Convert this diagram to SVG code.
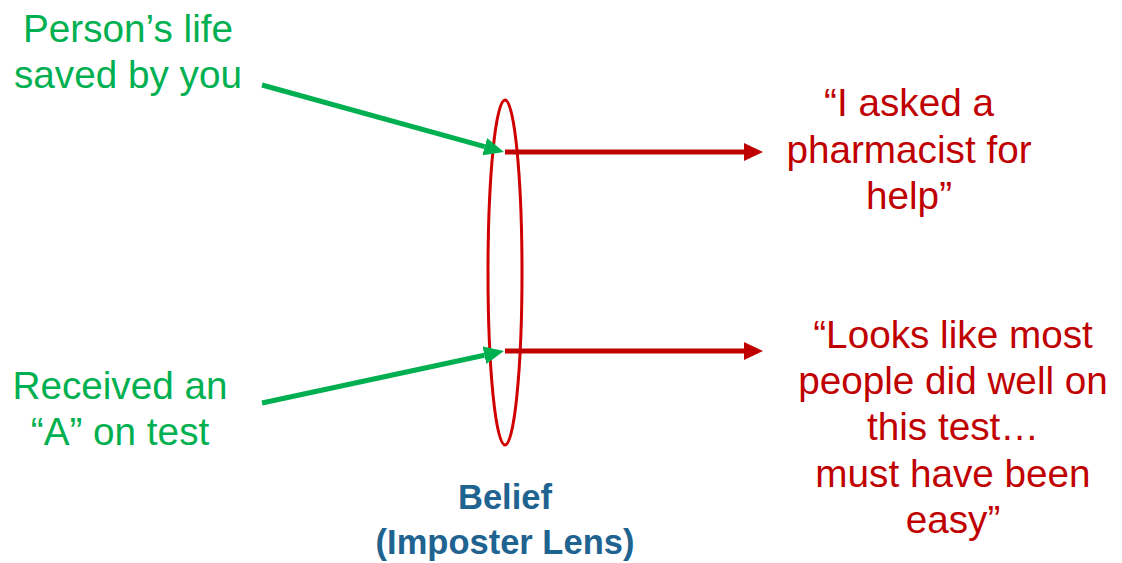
<svg xmlns="http://www.w3.org/2000/svg" width="1122" height="563" viewBox="0 0 1122 563">
<style>
.g{fill:#00b050;font-family:"Liberation Sans",Arial,sans-serif;font-size:38.7px;text-anchor:middle}
.r{fill:#c00000;font-family:"Liberation Sans",Arial,sans-serif;font-size:38.7px;text-anchor:middle}
.b{fill:#1f6391;font-family:"Liberation Sans",Arial,sans-serif;font-size:34.5px;font-weight:bold;text-anchor:middle}
.gl{stroke:#00b050;stroke-width:5;fill:none}
.rl{stroke:#c00000;stroke-width:5;fill:none}
</style>
<defs>
<marker id="ag" viewBox="0 0 4 3.6" refX="0" refY="1.8" markerWidth="4" markerHeight="3.6" orient="auto"><path d="M0,0 L4,1.8 L0,3.6 z" fill="#00b050"/></marker>
<marker id="ar" viewBox="0 0 3.8 3.6" refX="0" refY="1.8" markerWidth="3.8" markerHeight="3.6" orient="auto"><path d="M0,0 L3.8,1.8 L0,3.6 z" fill="#c00000"/></marker>
</defs>
<rect width="1122" height="563" fill="#fff"/>
<g id="lens">
<ellipse cx="505" cy="272.5" rx="17" ry="172.5" fill="none" stroke="#d00000" stroke-width="3"/>
<text class="b" x="505" y="509">Belief</text>
<text class="b" x="505" y="554">(Imposter Lens)</text>
</g>
<g id="input1"><text class="g" x="128" y="42">Person’s life</text><text class="g" x="128" y="88">saved by you</text></g>
<g id="input2"><text class="g" x="120" y="399">Received an</text><text class="g" x="120" y="445">“A” on test</text></g>
<g id="output1"><text class="r" x="909" y="116">“I asked a</text><text class="r" x="909" y="163">pharmacist for</text><text class="r" x="909" y="209">help”</text></g>
<g id="output2"><text class="r" x="953" y="348">“Looks like most</text><text class="r" x="953" y="394">people did well on</text><text class="r" x="953" y="440">this test…</text><text class="r" x="953" y="487">must have been</text><text class="r" x="953" y="533">easy”</text></g>
<g id="connectors">
<path class="gl" d="M262,85 L484.7,146.7" marker-end="url(#ag)"/>
<path class="gl" d="M262,403 L484.4,355.2" marker-end="url(#ag)"/>
<path class="rl" d="M505,152 L744,152" marker-end="url(#ar)"/>
<path class="rl" d="M505,351 L744,351" marker-end="url(#ar)"/>
</g>
</svg>
